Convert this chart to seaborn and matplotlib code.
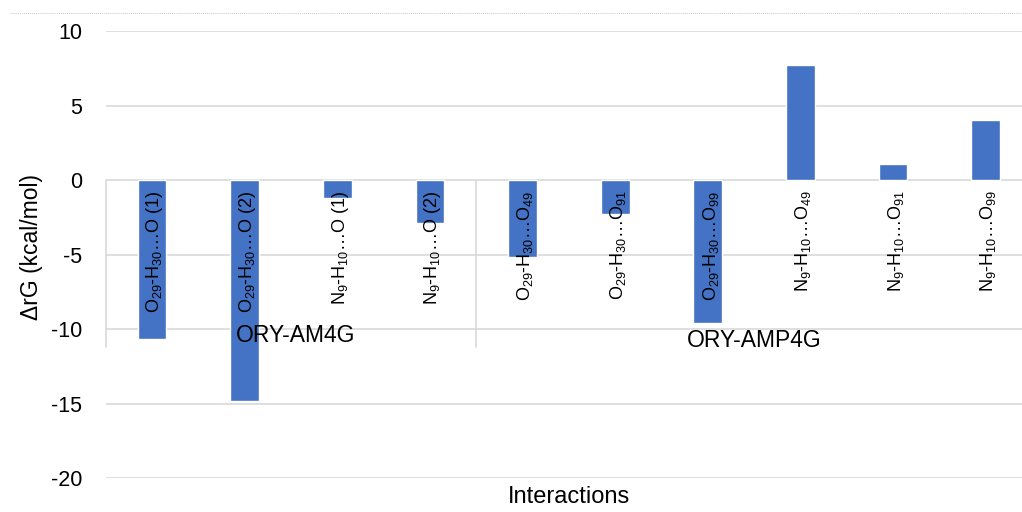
import seaborn as sns
import pandas as pd
import matplotlib.pyplot as plt
from matplotlib.lines import Line2D

# datos
interacciones = ['O$_\\mathregular{29}$-H$_\\mathregular{30}$…O (1)',
                 'O$_\\mathregular{29}$-H$_\\mathregular{30}$…O (2)',
                 'N$_\\mathregular{9}$-H$_\\mathregular{10}$…O (1)',
                 'N$_\\mathregular{9}$-H$_\\mathregular{10}$…O (2)',
                 'O$_\\mathregular{29}$-H$_\\mathregular{30}$…O$_\\mathregular{49}$',
                 'O$_\\mathregular{29}$-H$_\\mathregular{30}$…O$_\\mathregular{91}$',
                 'O$_\\mathregular{29}$-H$_\\mathregular{30}$…O$_\\mathregular{99}$',
                 'N$_\\mathregular{9}$-H$_\\mathregular{10}$…O$_\\mathregular{49}$',
                 'N$_\\mathregular{9}$-H$_\\mathregular{10}$…O$_\\mathregular{91}$',
                 'N$_\\mathregular{9}$-H$_\\mathregular{10}$…O$_\\mathregular{99}$']
delta_g = [-10.7, -14.8, -1.2, -2.9, -5.15, -2.3, -9.6, 7.7, 1.05, 4.05]
grupos = ['ORY-AM4G'] * 4 + ['ORY-AMP4G'] * 6
ticks_y = [-20, -15, -10, -5, 0, 5, 10]

df = pd.DataFrame({'interaccion': interacciones, 'dG': delta_g, 'grupo': grupos})

sns.set_style('white')
plt.rcParams['font.family'] = ['Liberation Sans', 'DejaVu Sans']
plt.rcParams['mathtext.fontset'] = 'custom'
plt.rcParams['mathtext.rm'] = 'Liberation Sans'
plt.rcParams['text.color'] = 'black'
plt.rcParams['axes.labelcolor'] = 'black'
plt.rcParams['ytick.color'] = 'black'

fig = plt.figure(figsize=(10.22, 5.12), dpi=100)
ax = fig.add_axes([0.1034, 0.0664, 0.9064, 0.873])
sns.barplot(x='interaccion', y='dG', data=df, color='#4472C4', width=0.31,
            saturation=1, ax=ax, zorder=3)
ax.set_ylim(-20, 10)
ax.set_xlim(-0.5, len(df) - 0.5)
ax.set_yticks(ticks_y)
ax.set_yticklabels([str(t) for t in ticks_y], fontsize=15.5)
ax.tick_params(axis='y', length=0, pad=17)
ax.set_xticks([])
ax.grid(axis='y', color='#d9d9d9', linewidth=1.2, zorder=0)
for s in ax.spines.values():
    s.set_visible(False)

# etiquetas de categoria
for i, txt in enumerate(df['interaccion']):
    ax.text(i + 0.03, -0.7, txt, rotation=90, ha='center', va='top', fontsize=13, zorder=4)

# etiquetas de grupo y separadores
n1 = grupos.count('ORY-AM4G')
ax.text((n1 - 1) / 2 + 0.05, -10.45, 'ORY-AM4G', ha='center', va='center', fontsize=16.5, zorder=4)
ax.text(n1 + (len(grupos) - n1 - 1) / 2, -10.75, 'ORY-AMP4G', ha='center', va='center', fontsize=16.5, zorder=4)
for xv in [-0.5, n1 - 0.5]:
    ax.plot([xv, xv], [0, -11.2], color='#d9d9d9', linewidth=1.2, zorder=1, clip_on=False)

ax.set_ylabel('ΔrG (kcal/mol)', fontsize=16.5)
ax.yaxis.set_label_coords(-0.068, 0.517)
ax.set_xlabel('Interactions', fontsize=17, va='center')
ax.xaxis.set_label_coords(0.5, -0.043)

# linea punteada superior
fig.add_artist(Line2D([0.01, 1.0], [0.975, 0.975], color='#c8c8c8', linewidth=0.7,
                      linestyle=(0, (1, 1)), transform=fig.transFigure))

fig.savefig('out.png', dpi=100)
